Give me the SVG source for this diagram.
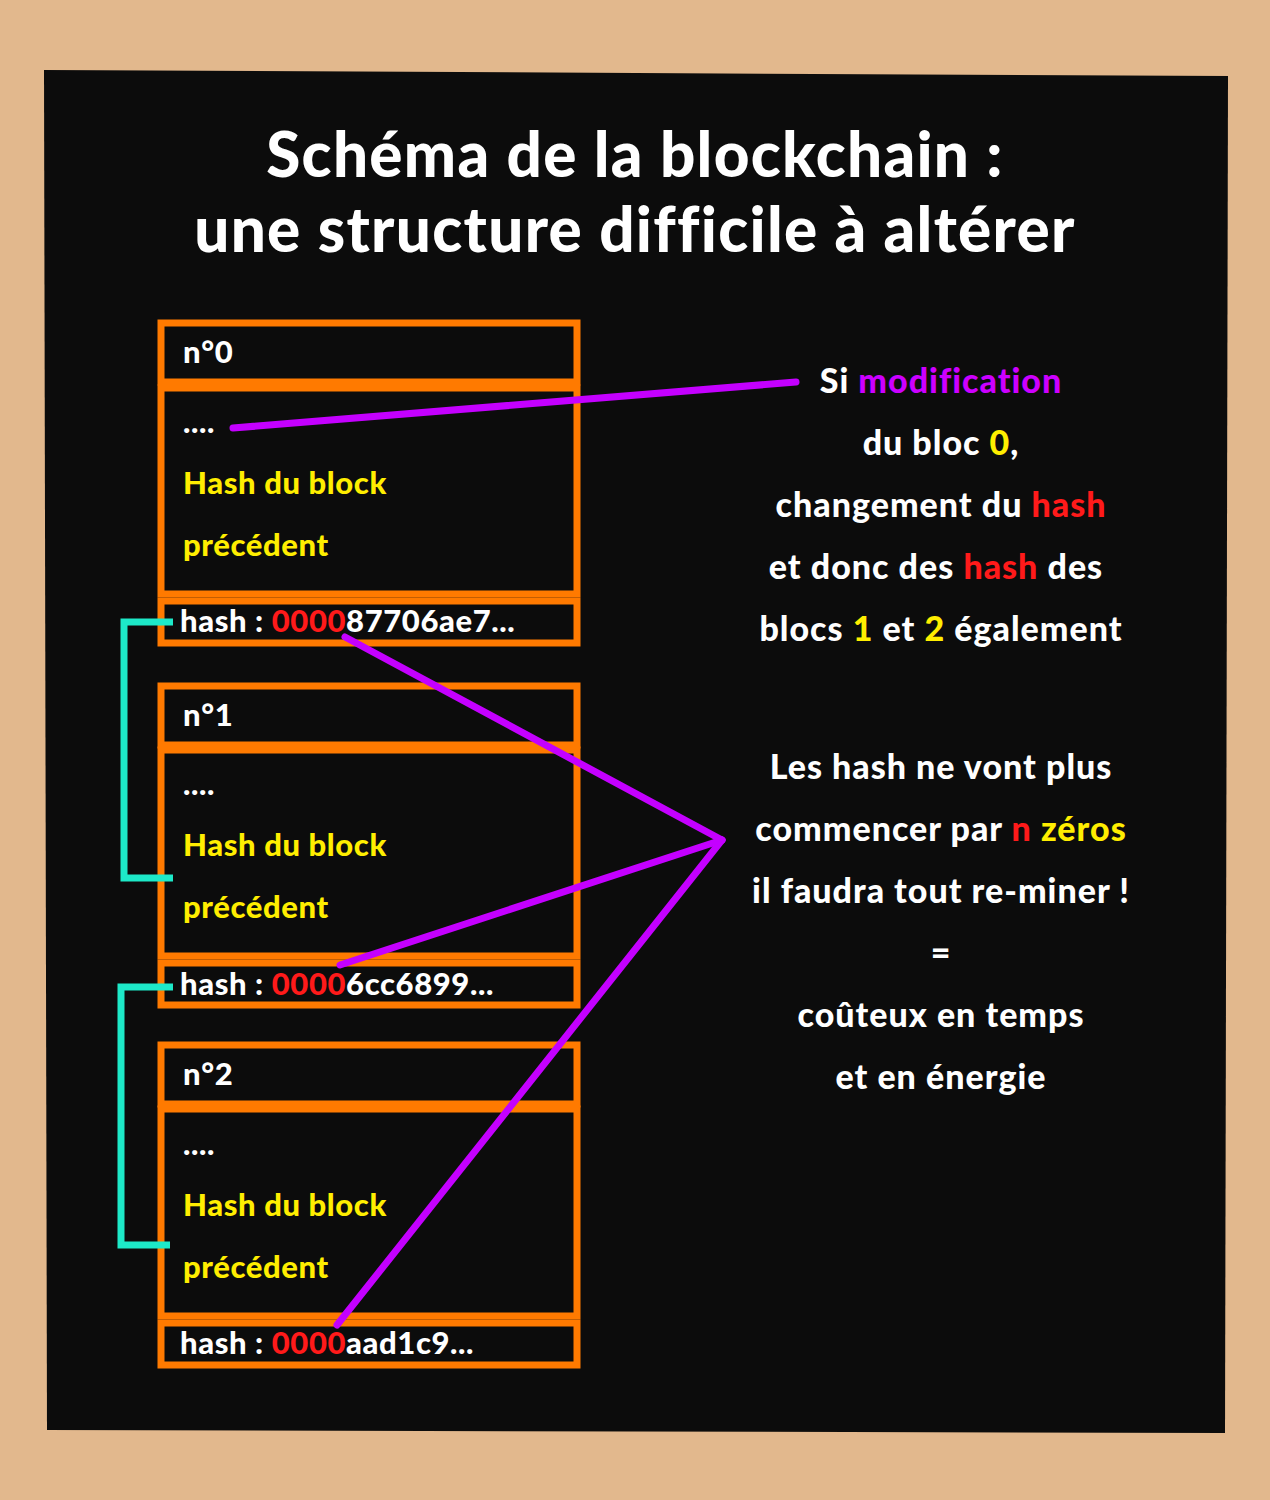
<svg xmlns="http://www.w3.org/2000/svg" width="1270" height="1500" viewBox="0 0 1270 1500">
<style>
text{font-family:Lato,"Open Sans","Liberation Sans",sans-serif;font-weight:900;fill:#fff}
.t{font-size:62px;text-anchor:middle;letter-spacing:1.3px}
.b{font-size:31px;letter-spacing:0.6px}
.r{font-size:34px;text-anchor:middle;letter-spacing:1px}
.y{fill:#ffee00}.red{fill:#ff1a1a}.p{fill:#cc00ff}
.box{fill:none;stroke:#ff7a00;stroke-width:7}
.pl{stroke:#c400ff;stroke-width:7;fill:none;stroke-linecap:round}
.tl{stroke:#1de9c8;stroke-width:7;fill:none}
</style>
<rect width="1270" height="1500" fill="#e2b88d"/>
<polygon points="44,70 1228,76 1225,1433 47,1430" fill="#0c0c0c"/>
<text class="t" x="635" y="177">Schéma de la blockchain :</text>
<text class="t" x="635" y="252">une structure difficile à altérer</text>
<g id="block0">
<rect class="box" x="161" y="323" width="416" height="59"/>
<rect class="box" x="161" y="388" width="416" height="206"/>
<rect class="box" x="161" y="601" width="416" height="42"/>
<text class="b" x="183" y="363">n°0</text>
<text class="b" x="183" y="433">....</text>
<text class="b y" x="183" y="494">Hash du block</text>
<text class="b y" x="183" y="556">précédent</text>
<text class="b" x="180" y="632">hash : <tspan class="red">0000</tspan>87706ae7...</text>
</g>
<g id="block1">
<rect class="box" x="161" y="686" width="416" height="59"/>
<rect class="box" x="161" y="750" width="416" height="206"/>
<rect class="box" x="161" y="963" width="416" height="42"/>
<text class="b" x="183" y="726">n°1</text>
<text class="b" x="183" y="795">....</text>
<text class="b y" x="183" y="856">Hash du block</text>
<text class="b y" x="183" y="918">précédent</text>
<text class="b" x="180" y="995">hash : <tspan class="red">0000</tspan>6cc6899...</text>
</g>
<g id="block2">
<rect class="box" x="161" y="1045" width="416" height="59"/>
<rect class="box" x="161" y="1109" width="416" height="207"/>
<rect class="box" x="161" y="1323" width="416" height="42"/>
<text class="b" x="183" y="1085">n°2</text>
<text class="b" x="183" y="1155">....</text>
<text class="b y" x="183" y="1216">Hash du block</text>
<text class="b y" x="183" y="1278">précédent</text>
<text class="b" x="180" y="1354">hash : <tspan class="red">0000</tspan>aad1c9...</text>
</g>
<g id="connectors">
<polyline class="tl" points="173,622 124,622 124,878 173,878"/>
<polyline class="tl" points="173,987 121,987 121,1245 170,1245"/>
<line class="pl" x1="233" y1="428" x2="796" y2="382"/>
<line class="pl" x1="345" y1="637" x2="722" y2="840"/>
<line class="pl" x1="340" y1="965" x2="722" y2="840"/>
<line class="pl" x1="337" y1="1325" x2="722" y2="840"/>
</g>
<g id="notes">
<text class="r" x="941" y="393">Si <tspan class="p">modification</tspan></text>
<text class="r" x="941" y="455">du bloc <tspan class="y">0</tspan>,</text>
<text class="r" x="941" y="517">changement du <tspan class="red">hash</tspan></text>
<text class="r" x="936" y="579">et donc des <tspan class="red">hash</tspan> des</text>
<text class="r" x="941" y="641">blocs <tspan class="y">1</tspan> et <tspan class="y">2</tspan> également</text>
<text class="r" x="941" y="779">Les hash ne vont plus</text>
<text class="r" x="941" y="841">commencer par <tspan class="red">n</tspan> <tspan class="y">zéros</tspan></text>
<text class="r" x="941" y="903">il faudra tout re-miner !</text>
<text class="r" x="941" y="965">=</text>
<text class="r" x="941" y="1027">coûteux en temps</text>
<text class="r" x="941" y="1089">et en énergie</text>
</g>
</svg>
